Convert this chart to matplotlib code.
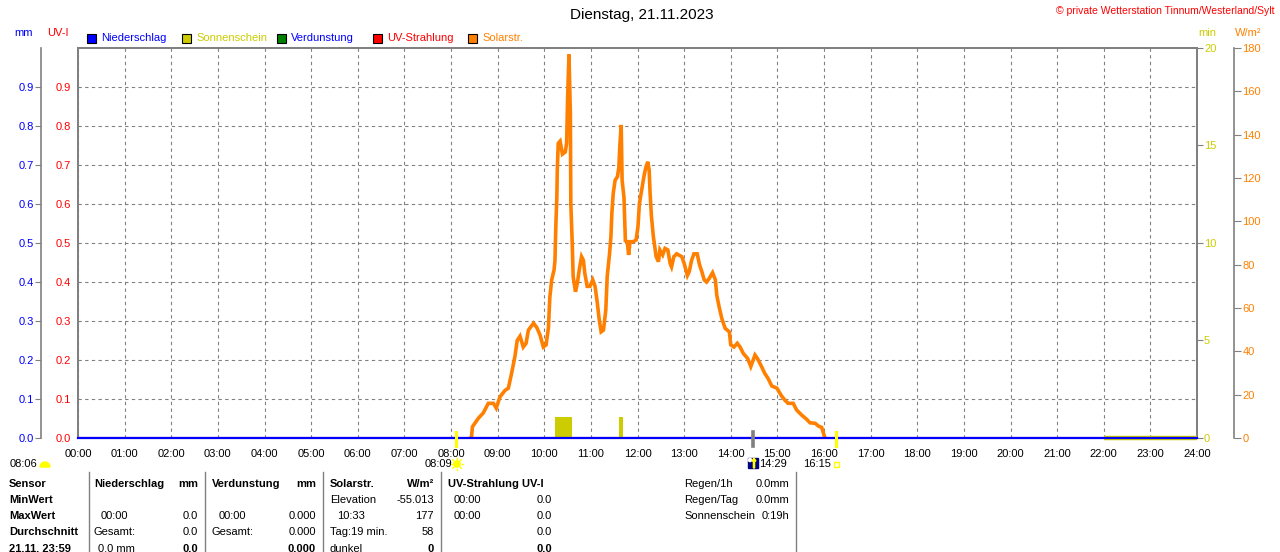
import matplotlib
matplotlib.use('Agg')
import matplotlib.pyplot as plt
from matplotlib import patches, transforms
from matplotlib.lines import Line2D

plt.rcParams['font.family'] = ['Liberation Sans', 'DejaVu Sans']

# Solarstrahlung (W/m2) ueber die Uhrzeit in Stunden
solar_time = [8.42, 8.44, 8.46, 8.59, 8.69, 8.80, 8.91, 8.97, 9.05, 9.16,
              9.23, 9.30, 9.37, 9.42, 9.48, 9.55, 9.61, 9.66, 9.77, 9.84,
              9.91, 9.98, 10.04, 10.09, 10.12, 10.16, 10.21, 10.23, 10.25, 10.27,
              10.28, 10.30, 10.34, 10.39, 10.45, 10.48, 10.50, 10.53, 10.56, 10.57,
              10.60, 10.62, 10.67, 10.71, 10.75, 10.80, 10.84, 10.87, 10.92, 10.98,
              11.04, 11.09, 11.14, 11.18, 11.22, 11.27, 11.32, 11.35, 11.40, 11.43,
              11.45, 11.48, 11.52, 11.57, 11.60, 11.62, 11.65, 11.67, 11.71, 11.74,
              11.78, 11.81, 11.84, 11.91, 11.97, 12.01, 12.04, 12.09, 12.14, 12.18,
              12.22, 12.25, 12.27, 12.30, 12.34, 12.40, 12.45, 12.48, 12.54, 12.59,
              12.65, 12.70, 12.73, 12.78, 12.84, 12.95, 13.00, 13.07, 13.11, 13.16,
              13.21, 13.28, 13.33, 13.38, 13.43, 13.48, 13.54, 13.61, 13.67, 13.70,
              13.75, 13.81, 13.88, 13.97, 14.00, 14.07, 14.14, 14.20, 14.27, 14.36,
              14.43, 14.52, 14.57, 14.66, 14.73, 14.80, 14.88, 14.99, 15.09, 15.16,
              15.23, 15.34, 15.41, 15.52, 15.63, 15.70, 15.81, 15.88, 15.95, 16.00,
              16.02]
solar_w = [0, 0.6, 5.2, 9.2, 11.5, 16, 16, 13.8, 19, 22,
           23, 29.9, 37.5, 45, 47, 42, 43.7, 49.8, 53, 51,
           47.5, 42, 43, 51, 65, 73, 77.5, 82, 99, 111,
           124, 136, 137, 131, 132, 136, 156, 177, 150, 108,
           90, 74.5, 67.5, 71.4, 77.5, 83.7, 82, 76, 70, 70,
           73, 70, 62, 54.5, 49, 49.8, 59, 74.5, 85, 93,
           103.7, 113, 119, 120.6, 125, 134.5, 144.5, 119, 111, 91,
           90.6, 84.5, 90.6, 90.6, 91.4, 97.5, 108, 114.5, 121, 125,
           127.5, 123.7, 113, 102, 93, 83.7, 81.4, 86.8, 84.5, 87.5,
           86.8, 80.6, 79, 83.7, 85, 83.7, 80.6, 75, 76.8, 82,
           85, 85, 80, 76.8, 73, 72, 73.7, 76.3, 73, 66,
           60.6, 55, 50.6, 49, 43, 42, 43.7, 42, 39, 36.8,
           33, 38.3, 36.8, 33, 29.8, 27.5, 24, 23, 19.4, 17.5,
           16, 16, 13, 10.6, 8.6, 7, 6.8, 5.5, 4.9, 1.4,
           0]

# Sonnenschein (min)
sun_start = [10.23, 11.61]
sun_end = [10.59, 11.68]
sun_min = [1.1, 1.1]
sun_night_t = [22.0, 24.0]
sun_night_min = [0, 0]

# Niederschlag / UV (den ganzen Tag 0)
rain_t = [0, 24]
rain_mm = [0, 0]
uv_t = [0, 24]
uv_i = [0, 0]

hours = list(range(25))
hour_labels = ['%02d:00' % h for h in hours]
mm_ticks = [0.0, 0.1, 0.2, 0.3, 0.4, 0.5, 0.6, 0.7, 0.8, 0.9]
min_ticks = [0, 5, 10, 15, 20]
w_ticks = [0, 20, 40, 60, 80, 100, 120, 140, 160, 180]

BLUE = '#0000ff'
RED = '#ff0000'
OLIVE = '#cccc00'
GREEN = '#008000'
ORANGE = '#ff8000'
GRAY = '#808080'

W, H = 1280, 552
fig = plt.figure(figsize=(12.8, 5.52), dpi=100)
L, R, T, B = 78, 1197, 48, 438
ax = fig.add_axes([L / W, 1 - B / H, (R - L) / W, (B - T) / H])

pt = 72 / 100  # pixel -> points


def px(x, y):
    return x / W, 1 - y / H


def txt(x, y, s, color='black', ha='left', size=8, weight='normal', va='center'):
    fig.text(*px(x, y), s, color=color, ha=ha, va=va, fontsize=size, fontweight=weight)


# main axes (UV-I labels, grid)
ax.set_xlim(0, 24)
ax.set_ylim(0, 1)
ax.set_xticks(hours)
ax.set_xticklabels(hour_labels)
ax.set_yticks(mm_ticks)
ax.set_yticklabels(['%.1f' % v for v in mm_ticks])
ax.tick_params(axis='x', length=0, pad=8, labelsize=8)
ax.tick_params(axis='y', length=0, pad=5, labelsize=8, labelcolor=RED)
ax.grid(True, color=GRAY, ls=(0, (3, 3)), lw=0.8)
for s in ax.spines.values():
    s.set_color(GRAY)
    s.set_linewidth(2 * pt)
ax.plot(uv_t, uv_i, color=RED, lw=1.5)

# sunshine minutes
ax_min = ax.twinx()
ax_min.set_ylim(0, 20)
ax_min.set_yticks(min_ticks)
ax_min.tick_params(axis='y', direction='out', length=4, color=GRAY, pad=1,
                   labelsize=8, labelcolor=OLIVE)
for s in ax_min.spines.values():
    s.set_visible(False)
ax_min.bar(sun_start, sun_min, width=[e - s for s, e in zip(sun_start, sun_end)],
           align='edge', color=OLIVE, lw=0)
ax_min.plot(sun_night_t, sun_night_min, color=OLIVE, lw=3.2, clip_on=False,
            solid_capstyle='butt')

# solar radiation
ax_w = ax.twinx()
ax_w.set_ylim(0, 180)
ax_w.set_yticks(w_ticks)
ax_w.tick_params(axis='y', direction='out', length=5, color=GRAY, pad=1,
                 labelsize=8, labelcolor=ORANGE)
for k, s in ax_w.spines.items():
    s.set_visible(k == 'right')
ax_w.spines['right'].set_position(('outward', 37 * pt))
ax_w.spines['right'].set_color(GRAY)
ax_w.spines['right'].set_linewidth(1.2)
ax_w.plot(solar_time, solar_w, color=ORANGE, lw=2.6, solid_joinstyle='miter')

# precipitation (mm) on far left axis
ax_mm = ax.twinx()
ax_mm.yaxis.tick_left()
ax_mm.set_ylim(0, 1)
ax_mm.set_yticks(mm_ticks)
ax_mm.set_yticklabels(['%.1f' % v for v in mm_ticks])
ax_mm.tick_params(axis='y', direction='out', length=4, color=GRAY, pad=1,
                  labelsize=8, labelcolor=BLUE)
for k, s in ax_mm.spines.items():
    s.set_visible(k == 'left')
ax_mm.spines['left'].set_position(('outward', 37 * pt))
ax_mm.spines['left'].set_color(GRAY)
ax_mm.spines['left'].set_linewidth(1.2)
ax_mm.plot(rain_t, rain_mm, color=BLUE, lw=1.6, clip_on=False)

# header
txt(642, 15, 'Dienstag, 21.11.2023', size=11, ha='center')
txt(1275, 11, '\u00a9 private Wetterstation Tinnum/Westerland/Sylt', color=RED,
    ha='right', size=7.5)
txt(14, 33, 'mm', color=BLUE)
txt(47, 33, 'UV-I', color=RED)
txt(1198, 33, 'min', color=OLIVE)
txt(1235, 33, 'W/m\u00b2', color=ORANGE)

ident = transforms.IdentityTransform()

legend = [(87, BLUE, 'Niederschlag', BLUE),
          (182, OLIVE, 'Sonnenschein', OLIVE),
          (277, GREEN, 'Verdunstung', BLUE),
          (373, RED, 'UV-Strahlung', RED),
          (468, ORANGE, 'Solarstr.', ORANGE)]
for x0, fc, label, tc in legend:
    fig.add_artist(patches.Rectangle((x0, H - 43), 9, 9, facecolor=fc,
                                     edgecolor='black', lw=0.8, transform=ident))
    txt(x0 + 14, 38, label, color=tc)

# sunrise / sunset markers on x axis
for xm, c, lw in [(456, '#ffff00', 2.2), (836, '#ffff00', 2.2), (753, GRAY, 2.6)]:
    fig.add_artist(Line2D([xm, xm], [H - 432, H - 446], color=c, lw=lw, transform=ident))

txt(37, 464, '08:06', ha='right')
fig.add_artist(patches.Wedge((45, H - 467), 5, 0, 180, color='#ffff00', transform=ident))
txt(452, 464, '08:09', ha='right')
fig.add_artist(patches.Circle((457, H - 464), 3.2, color='#ffff00', transform=ident))
for dx, dy in [(6, 0), (-6, 0), (0, 6), (0, -6), (4.3, 4.3), (-4.3, 4.3), (4.3, -4.3), (-4.3, -4.3)]:
    fig.add_artist(Line2D([457 + dx * 0.75, 457 + dx], [H - 464 + dy * 0.75, H - 464 + dy],
                          color='#ffff00', lw=1, transform=ident))
fig.add_artist(patches.Rectangle((748, H - 468), 10, 10, color='#000080', transform=ident))
fig.add_artist(patches.Circle((750, H - 460), 1.6, color='white', transform=ident))
fig.add_artist(patches.FancyArrow(754, H - 468, 0, 7, width=1.2, head_width=4, head_length=3,
                                  color='#ffff00', transform=ident))
txt(759, 464, '14:29')
txt(803, 464, '16:15')
fig.add_artist(patches.Rectangle((833.5, H - 466.5), 5, 5, facecolor='none',
                                 edgecolor='#ffff00', lw=1, transform=ident))

# table
for xs in [89, 205, 323, 441, 796]:
    fig.add_artist(Line2D([xs, xs], [H - 472, 0], color=GRAY, lw=1, transform=ident))

rows = [484, 500, 516, 532, 549]
for y, s in zip(rows, ['Sensor', 'MinWert', 'MaxWert', 'Durchschnitt', '21.11. 23:59']):
    txt(9, y, s, weight='bold')

txt(94, rows[0], 'Niederschlag', weight='bold')
txt(198, rows[0], 'mm', weight='bold', ha='right')
txt(101, rows[2], '00:00')
txt(198, rows[2], '0.0', ha='right')
txt(94, rows[3], 'Gesamt:')
txt(198, rows[3], '0.0', ha='right')
txt(98, rows[4], '0.0 mm')
txt(198, rows[4], '0.0', ha='right', weight='bold')

txt(212, rows[0], 'Verdunstung', weight='bold')
txt(316, rows[0], 'mm', weight='bold', ha='right')
txt(219, rows[2], '00:00')
txt(316, rows[2], '0.000', ha='right')
txt(212, rows[3], 'Gesamt:')
txt(316, rows[3], '0.000', ha='right')
txt(316, rows[4], '0.000', ha='right', weight='bold')

txt(330, rows[0], 'Solarstr.', weight='bold')
txt(434, rows[0], 'W/m\u00b2', weight='bold', ha='right')
txt(330, rows[1], 'Elevation')
txt(434, rows[1], '-55.013', ha='right')
txt(337, rows[2], '10:33')
txt(434, rows[2], '177', ha='right')
txt(330, rows[3], 'Tag:19 min.')
txt(434, rows[3], '58', ha='right')
txt(330, rows[4], 'dunkel')
txt(434, rows[4], '0', ha='right', weight='bold')

txt(448, rows[0], 'UV-Strahlung UV-I', weight='bold')
txt(454, rows[1], '00:00')
txt(552, rows[1], '0.0', ha='right')
txt(454, rows[2], '00:00')
txt(552, rows[2], '0.0', ha='right')
txt(552, rows[3], '0.0', ha='right')
txt(552, rows[4], '0.0', ha='right', weight='bold')

txt(684, rows[0], 'Regen/1h')
txt(789, rows[0], '0.0mm', ha='right')
txt(684, rows[1], 'Regen/Tag')
txt(789, rows[1], '0.0mm', ha='right')
txt(684, rows[2], 'Sonnenschein')
txt(789, rows[2], '0:19h', ha='right')

fig.savefig('out.png', dpi=100)
